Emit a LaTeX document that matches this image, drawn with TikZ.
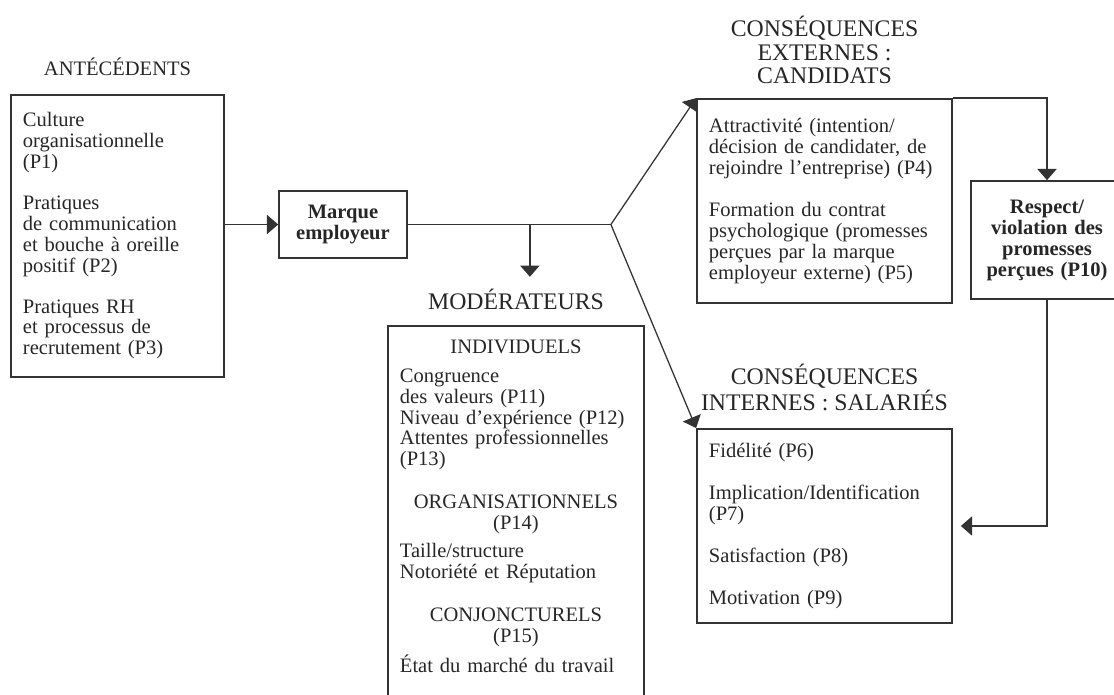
\documentclass[tikz,border=0pt]{standalone}
\usepackage{fontspec}
\setmainfont{Liberation Serif}
\usepackage{tikz}
\usetikzlibrary{arrows.meta, calc, positioning}

\setlength{\parindent}{0pt}
\newcommand{\boxfont}{\fontsize{14.6}{14.9}\selectfont}
\newcommand{\titlefont}{\fontsize{16.9}{16.7}\selectfont}

\tikzset{
    box/.style={draw=black!80, line width=1.2pt, inner xsep=0.3cm, inner ysep=0.35cm,
        text=black!85, font=\boxfont},
    heading/.style={inner sep=0pt, text=black!85, font=\titlefont, align=center},
    arr/.style={draw=black!80, line width=0.9pt, -{Triangle[length=0.28cm, width=0.48cm]}},
    link/.style={draw=black!80, line width=0.9pt}
}

\begin{document}
\begin{tikzpicture}[x=0.025cm, y=-0.025cm]
        \useasboundingbox (0,0) rectangle (1114,695);

        \node[box, align=left, text width=4.725cm, minimum height=7.05cm] (ante) at (117.5,236)
            {Culture\\ organisationnelle\\ (P1)\\[14pt]
             Pratiques\\ de communication\\ et bouche à oreille\\ positif (P2)\\[14pt]
             Pratiques RH\\ et processus de\\ recrutement (P3)};
        \node[box, align=center, text width=2.6cm, minimum height=1.675cm, font=\boxfont\bfseries] (marque) at (343,224.5)
            {Marque\\ employeur};
        \node[box, anchor=north, align=left, text width=5.8cm] (mod) at (516,325)
            {{\centering INDIVIDUELS\par}\vspace{5.5pt}
             Congruence\\ des valeurs (P11)\\ Niveau d’expérience (P12)\\ Attentes professionnelles\\ (P13)\par\vspace{15.5pt}
             {\centering ORGANISATIONNELS\\ (P14)\par}\vspace{5pt}
             Taille/structure\\ Notoriété et Réputation\par\vspace{15.5pt}
             {\centering CONJONCTURELS\\ (P15)\par}\vspace{5pt}
             État du marché du travail\par\vspace{60pt}\mbox{}};
        \node[box, align=left, text width=5.775cm, minimum height=5.1cm] (ext) at (824.5,201)
            {Attractivité (intention/\\ décision de candidater, de\\ rejoindre l’entreprise) (P4)\\[15pt]
             Formation du contrat\\ psychologique (promesses\\ perçues par la marque\\ employeur externe) (P5)};
        \node[box, align=left, text width=5.775cm, minimum height=4.85cm] (int) at (824.5,526)
            {Fidélité (P6)\\[15pt] Implication/Identification\\ (P7)\\[15pt] Satisfaction (P8)\\[15pt] Motivation (P9)};
        \node[box, align=center, text width=3.2cm, minimum height=2.95cm, font=\boxfont\bfseries] (resp) at (1047,240)
            {Respect/\\ violation des\\ promesses\\ perçues (P10)};

        \node[heading, font=\boxfont, above=0.45cm of ante] (antelab) {ANTÉCÉDENTS};
        \node[heading, above=0.375cm of mod] (modlab) {MODÉRATEURS};
        \node[heading, above=0.35cm of ext] (extlab) {CONSÉQUENCES\\ EXTERNES :\\ CANDIDATS};
        \node[heading, above=0.425cm of int] (intlab) {CONSÉQUENCES\\ INTERNES : SALARIÉS};

        \coordinate[right=5.075cm of marque.east] (split);
        \coordinate[right=3.05cm of marque.east] (drop);

        \draw[arr] (marque.west -| ante.east) -- (marque.west);
        \draw[link] (marque.east) -- (split);
        \draw[arr, shorten >=0.3cm] (drop) -- (drop |- modlab.north);
        \path (split)
            edge[arr] (ext.north west)
            edge[arr] (int.north west);
        \draw[arr] (ext.north east) -| (resp.north);
        \draw[arr, shorten >=0.2cm] (resp.south) |- (int.east);
    \end{tikzpicture}
\end{document}
